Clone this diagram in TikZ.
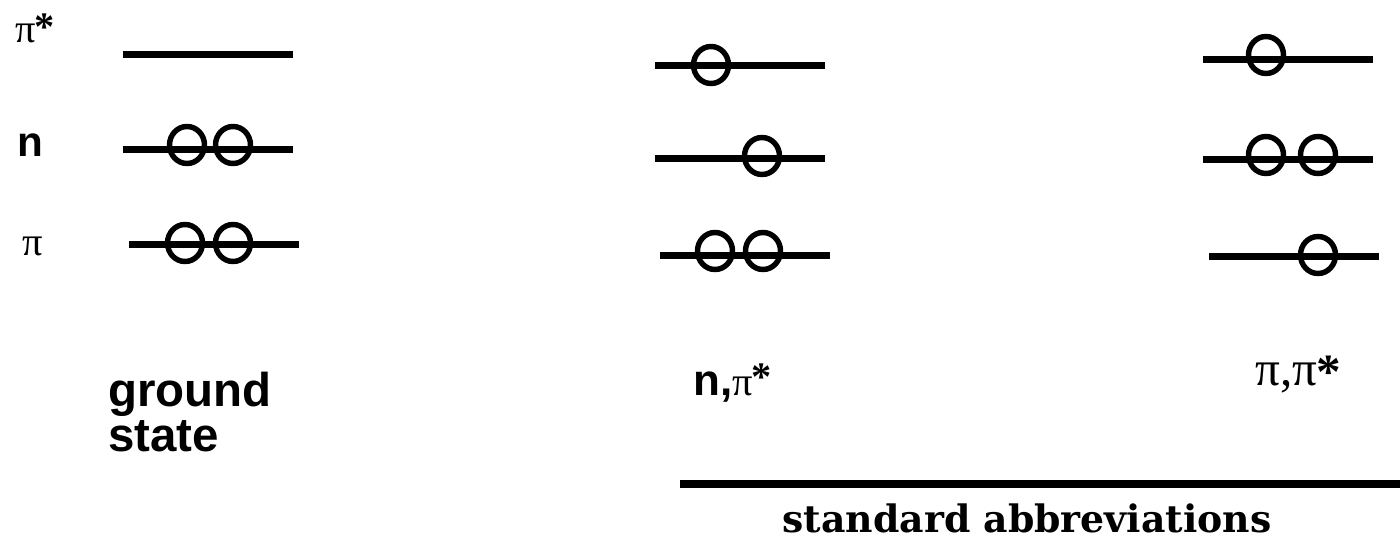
\documentclass[tikz,border=0pt]{standalone}
\usepackage{fontspec}
\setmainfont{Liberation Serif}
\setsansfont{Liberation Sans}
\newfontfamily\slabfont{DejaVu Serif}
\usetikzlibrary{shapes.geometric,positioning}
\newcommand{\orbstar}[1][0em]{\kern-0.02em\raisebox{#1}{\bfseries *}}

\begin{document}
\begin{tikzpicture}[
    level/.style={rectangle, fill=black, minimum width=3.4cm, minimum height=0.14cm, inner sep=0pt},
    elec/.style={ellipse, draw, line width=3.1pt, minimum width=0.7cm, minimum height=0.74cm, inner sep=0pt},
    orb/.style={font=\fontsize{23}{23}\selectfont, inner sep=0pt, anchor=base west},
    lbl/.style={font=\fontsize{27}{25.5}\selectfont\sffamily\bfseries, inner sep=0pt}
]
\useasboundingbox (0,0) rectangle (28,-10.8);

% ground state
\node[level] (gs-pistar) at (4.15,-1.1) {};
\node[level] (gs-n) at (4.15,-3.0) {};
\node[level] (gs-pi) at (4.27,-4.9) {};
\node[elec] (gs-n1) at (3.74,-2.9) {};
\node[elec] (gs-n2) at (4.66,-2.9) {};
\node[elec] (gs-pi1) at (3.7,-4.86) {};
\node[elec] (gs-pi2) at (4.66,-4.86) {};

% n,pi* state
\node[level] (np-pistar) at (14.8,-1.32) {};
\node[level] (np-n) at (14.8,-3.18) {};
\node[level] (np-pi) at (14.9,-5.12) {};
\node[elec] (np-pistar1) at (14.22,-1.3) {};
\node[elec] (np-n1) at (15.24,-3.12) {};
\node[elec] (np-pi1) at (14.3,-5.02) {};
\node[elec] (np-pi2) at (15.26,-5.02) {};

% pi,pi* state
\node[level] (pp-pistar) at (25.76,-1.2) {};
\node[level] (pp-n) at (25.76,-3.2) {};
\node[level] (pp-pi) at (25.88,-5.14) {};
\node[elec] (pp-pistar1) at (25.32,-1.1) {};
\node[elec] (pp-n1) at (25.32,-3.1) {};
\node[elec] (pp-n2) at (26.36,-3.1) {};
\node[elec] (pp-pi1) at (26.36,-5.1) {};

% orbital labels
\node[orb] (lbl-pistar) at (0.3,-0.86) {π\orbstar[0.05em]};
\node[lbl, anchor=base west, font=\fontsize{24}{24}\selectfont\sffamily\bfseries] (lbl-n) at (0.34,-3.14) {n};
\node[orb] (lbl-pi) at (0.44,-5.1) {π};

% state labels
\node[lbl, align=left, anchor=north west] (gs) at (2.16,-7.44) {ground\\state};
\node[lbl, anchor=base west, font=\fontsize{25}{25}\selectfont\sffamily\bfseries] (np) at (13.86,-7.9) {n,{\rmfamily\mdseries\fontsize{23}{23}\selectfont π\orbstar[0.12em]}};
\node[orb, font=\fontsize{28}{28}\selectfont] (pp) at (25.1,-7.7) {π,π\orbstar[-0.08em]};

% abbreviations
\node[rectangle, fill=black, minimum width=14.4cm, minimum height=0.16cm, inner sep=0pt] (rule) at (20.8,-9.68) {};
\node[font=\fontsize{21.5}{21.5}\selectfont\slabfont\bfseries, inner sep=0pt, anchor=base] (abbr) at (20.54,-10.64) {standard abbreviations};
\end{tikzpicture}
\end{document}
